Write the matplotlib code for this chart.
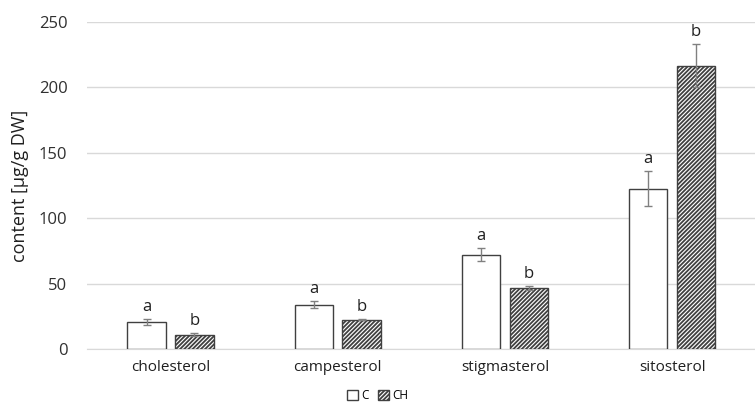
import matplotlib
matplotlib.use("Agg")
import matplotlib.pyplot as plt
import numpy as np

categories = ["cholesterol", "campesterol", "stigmasterol", "sitosterol"]
c_values = [20.5, 34.0, 72.0, 122.5]
c_errors = [2.5, 2.5, 5.0, 13.5]
ch_values = [11.0, 22.5, 46.5, 216.5]
ch_errors = [1.2, 0.6, 1.5, 16.5]
c_letters = ["a", "a", "a", "a"]
ch_letters = ["b", "b", "b", "b"]
yticks = [0, 50, 100, 150, 200, 250]

plt.rcParams['font.family'] = ['Open Sans', 'DejaVu Sans']
plt.rcParams['hatch.linewidth'] = 1.3
plt.rcParams['hatch.color'] = '#333333'

fig = plt.figure(figsize=(7.55, 4.09), dpi=100)
ax = fig.add_axes([0.115, 0.1467, 0.886, 0.7995])

x = np.arange(len(categories))
w = 0.23
off = 0.143
err_kw = dict(ecolor='#808080', elinewidth=1.0, capsize=3, capthick=1.0)
ax.bar(x - off, c_values, w, yerr=c_errors, color='white', edgecolor='#404040',
       linewidth=1.0, error_kw=err_kw, label='C', zorder=3)
ax.bar(x + off, ch_values, w, yerr=ch_errors, color='white', edgecolor='#404040',
       hatch='////////', linewidth=1.0, error_kw=err_kw, label='CH', zorder=3)

for i in range(len(categories)):
    ax.text(x[i] - off, c_values[i] + c_errors[i] + 3, c_letters[i], ha='center',
            va='bottom', fontsize=12, color='#202020')
    ax.text(x[i] + off, ch_values[i] + ch_errors[i] + 3, ch_letters[i], ha='center',
            va='bottom', fontsize=12, color='#202020')

ax.set_xlim(-0.5, len(categories) - 0.5)
ax.set_ylim(0, 250)
ax.set_yticks(yticks)
ax.set_xticks(x)
ax.set_xticklabels(categories, fontsize=11, color='#202020')
ax.tick_params(axis='y', labelsize=12, length=0, pad=14, labelcolor='#303030')
ax.tick_params(axis='x', length=0, pad=8)
ax.grid(axis='y', color='#d9d9d9', linewidth=1.0, zorder=0)
ax.set_axisbelow(True)
for s in ['top', 'right', 'left']:
    ax.spines[s].set_visible(False)
ax.spines['bottom'].set_color('#d9d9d9')
ax.set_ylabel("content [µg/g DW]", fontsize=13, color='#202020', labelpad=7)

fig.legend(loc='lower center', bbox_to_anchor=(0.5, -0.01), ncol=2, frameon=False,
           fontsize=8.5, handlelength=0.9, handleheight=0.9, handletextpad=0.3,
           columnspacing=0.8)

fig.savefig("out.png", dpi=100)
